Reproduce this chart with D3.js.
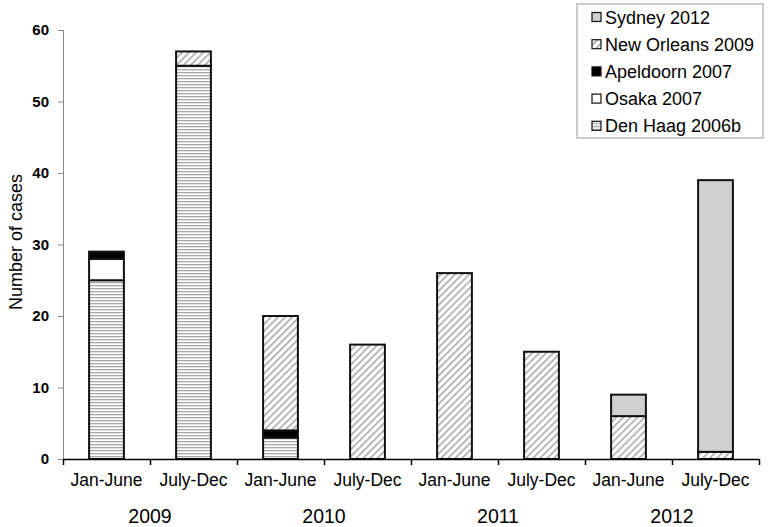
<!DOCTYPE html>
<html>
<head>
<meta charset="utf-8">
<script src="https://cdn.jsdelivr.net/npm/d3@7"></script>
<style>
  body { margin: 0; background: #fff; }
  text { font-family: "Liberation Sans", Arial, sans-serif; }
</style>
</head>
<body>
<script>
const width = 768, height = 527;

// data
const periods = ["Jan-June", "July-Dec", "Jan-June", "July-Dec", "Jan-June", "July-Dec", "Jan-June", "July-Dec"];
const years = ["2009", "2010", "2011", "2012"];
const seriesNames = ["Den Haag 2006b", "Osaka 2007", "Apeldoorn 2007", "New Orleans 2009", "Sydney 2012"];
const denHaag    = [25, 55, 3, 0, 0, 0, 0, 0];
const osaka      = [3, 0, 0, 0, 0, 0, 0, 0];
const apeldoorn  = [1, 0, 1, 0, 0, 0, 0, 0];
const newOrleans = [0, 2, 16, 16, 26, 15, 6, 1];
const sydney     = [0, 0, 0, 0, 0, 0, 3, 38];
const yTicks = [0, 10, 20, 30, 40, 50, 60];

const seriesValues = [denHaag, osaka, apeldoorn, newOrleans, sydney];
const rows = periods.map((p, i) => {
    const r = {idx: i};
    seriesNames.forEach((s, k) => r[s] = seriesValues[k][i]);
    return r;
});

const svg = d3.select("body").append("svg")
    .attr("width", width)
    .attr("height", height);

const defs = svg.append("defs");
const hz = defs.append("pattern")
    .attr("id", "hz").attr("patternUnits", "userSpaceOnUse")
    .attr("width", 6).attr("height", 3);
hz.append("rect").attr("width", 6).attr("height", 3).attr("fill", "#fff");
hz.append("rect").attr("y", 0).attr("width", 6).attr("height", 1.3).attr("fill", "#a8a8a8");

const dg = defs.append("pattern")
    .attr("id", "dg").attr("patternUnits", "userSpaceOnUse")
    .attr("width", 5).attr("height", 5)
    .attr("patternTransform", "rotate(45)");
dg.append("rect").attr("width", 5).attr("height", 5).attr("fill", "#fff");
dg.append("rect").attr("width", 1.6).attr("height", 5).attr("fill", "#a8a8a8");

const fills = {
    "Den Haag 2006b": "url(#hz)",
    "Osaka 2007": "#fff",
    "Apeldoorn 2007": "#000",
    "New Orleans 2009": "url(#dg)",
    "Sydney 2012": "#d0d0d0"
};

const x = d3.scaleBand()
    .domain(d3.range(periods.length))
    .range([63, 759])
    .paddingInner(0.6)
    .paddingOuter(0.3);

const xEdge = d3.scaleLinear()
    .domain([0, periods.length])
    .range([63, 759]);

const y = d3.scaleLinear()
    .domain([0, 60])
    .range([459, 30]);

// y axis
const yAxis = svg.append("g")
    .attr("transform", "translate(63,0)")
    .call(d3.axisLeft(y).tickValues(yTicks).tickSize(5).tickPadding(9));
yAxis.select(".domain").attr("stroke", "#888");
yAxis.selectAll(".tick line").attr("stroke", "#888");
yAxis.selectAll("text")
    .attr("font-size", 15).attr("font-weight", "bold").attr("fill", "#000");

// stacked bars
const stacked = d3.stack().keys(seriesNames)(rows);

svg.append("g").selectAll("g")
    .data(stacked)
    .join("g")
    .attr("fill", d => fills[d.key])
    .selectAll("rect")
    .data(d => d.filter(s => s[1] - s[0] > 0))
    .join("rect")
    .attr("x", d => x(d.data.idx))
    .attr("width", x.bandwidth())
    .attr("y", d => y(d[1]))
    .attr("height", d => y(d[0]) - y(d[1]))
    .attr("stroke", "#111")
    .attr("stroke-width", 2);

// x axis
const xAxis = svg.append("g")
    .attr("transform", "translate(0,459)")
    .call(d3.axisBottom(xEdge).tickValues(d3.range(periods.length + 1)).tickFormat("").tickSize(6).tickSizeOuter(0));
xAxis.select(".domain").attr("stroke", "#000").attr("stroke-width", 1.5);
xAxis.selectAll(".tick line").attr("stroke", "#000").attr("stroke-width", 1.5);

svg.append("g").selectAll("text")
    .data(periods)
    .join("text")
    .attr("x", (d, i) => x(i) + x.bandwidth() / 2)
    .attr("y", 486)
    .attr("text-anchor", "middle")
    .attr("font-size", 17.5)
    .text(d => d);

svg.append("g").selectAll("text")
    .data(years)
    .join("text")
    .attr("x", (d, i) => xEdge(i * 2 + 1))
    .attr("y", 523)
    .attr("text-anchor", "middle")
    .attr("font-size", 19.5)
    .text(d => d);

svg.append("text")
    .attr("transform", "translate(22,242) rotate(-90)")
    .attr("text-anchor", "middle")
    .attr("font-size", 18)
    .text("Number of cases");

// legend
const legend = svg.append("g");
legend.append("rect")
    .attr("x", 577).attr("y", 4)
    .attr("width", 186).attr("height", 134)
    .attr("fill", "#fff").attr("stroke", "#999");

const items = legend.selectAll("g.item")
    .data(seriesNames.slice().reverse())
    .join("g")
    .attr("class", "item")
    .attr("transform", (d, i) => `translate(592,${17 + i * 27.2})`);
items.append("rect")
    .attr("x", 0).attr("y", -4.5)
    .attr("width", 9).attr("height", 9)
    .attr("fill", d => fills[d])
    .attr("stroke", "#111").attr("stroke-width", 1.2);
items.append("text")
    .attr("x", 13).attr("y", 6.5)
    .attr("font-size", 18)
    .text(d => d);
</script>
</body>
</html>
